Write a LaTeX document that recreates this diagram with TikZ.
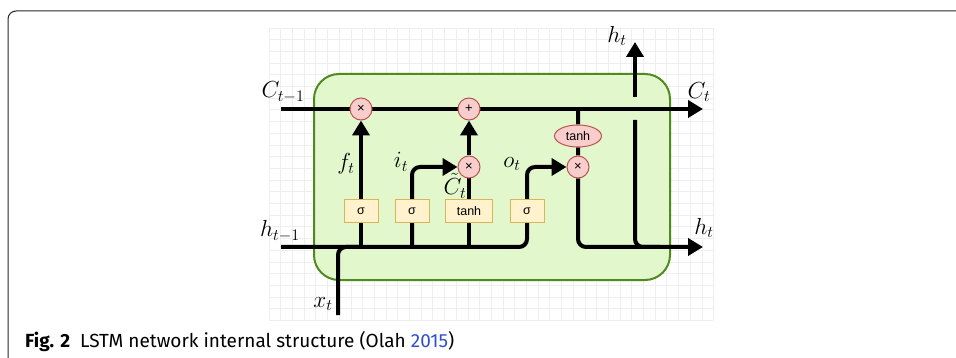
\documentclass[tikz,border=0pt]{standalone}
\usepackage{fontspec}
\setmainfont{Fira Sans}
\newfontfamily\boxfont{Liberation Sans}
\usetikzlibrary{arrows.meta,shapes.geometric}
\definecolor{gridc}{HTML}{EEEEEE}
\definecolor{cellfill}{HTML}{E3F7CC}
\definecolor{celldraw}{HTML}{4E8A1E}
\definecolor{opfill}{HTML}{F8CECC}
\definecolor{opdraw}{HTML}{B85450}
\definecolor{gatefill}{HTML}{FFF2CC}
\definecolor{gatedraw}{HTML}{D6B656}
\definecolor{citeblue}{HTML}{2F4FD0}
\pgfdeclarelayer{bg}
\pgfdeclarelayer{lines}
\pgfsetlayers{bg,lines,main}
\tikzset{
  opnode/.style={circle, draw=opdraw, fill=opfill, line width=1pt, minimum size=22pt, inner sep=0pt, font=\boxfont\fontsize{13}{14}\selectfont},
  tanhnode/.style={ellipse, draw=opdraw, fill=opfill, line width=1pt, minimum width=47pt, minimum height=22pt, inner sep=0pt, font=\boxfont\fontsize{12.5}{13}\selectfont},
  gatebox/.style={rectangle, draw=gatedraw, fill=gatefill, line width=1pt, minimum width=34pt, minimum height=23pt, inner sep=0pt, font=\boxfont\fontsize{12.5}{13}\selectfont},
  wire/.style={line width=4pt, black, rounded corners=8pt},
  wirearrow/.style={wire, -{Triangle[length=15pt,width=17pt]}},
  mathlabel/.style={inner sep=0pt, scale=1.12, font=\fontsize{20.74}{22}\selectfont},
}
\begin{document}
\begin{tikzpicture}[x=1pt,y=-1pt]
\useasboundingbox (0,0) rectangle (956,358);
% outer frame
\draw[line width=1pt, black!85, rounded corners=8pt] (8,358) -- (8,11) -- (956,11);
% grid and cell
\begin{pgfonlayer}{bg}
\foreach \i in {0,...,38} \draw[gridc, line width=0.8pt] (269+\i*11.7,28) -- (269+\i*11.7,320);
\foreach \j in {0,...,25} \draw[gridc, line width=0.8pt] (269,28+\j*11.7) -- (713,28+\j*11.7);
\draw[draw=celldraw, fill=cellfill, line width=2pt, rounded corners=25pt] (314,74) rectangle (670,280);
\end{pgfonlayer}
% coordinates
\coordinate (Cin) at (281,109);
\coordinate (Cout) at (703,109);
\coordinate (hin) at (281,247);
\coordinate (hout) at (703,247);
\coordinate (xin) at (338,315);
\coordinate (htop) at (635,42);
\coordinate (hgapbot) at (635,120);
\coordinate (hgaptop) at (635,97);
% nodes
\node[opnode] (fx) at (361,109) {×};
\node[opnode] (plus) at (469,109) {+};
\node[opnode] (ix) at (469,167) {×};
\node[opnode] (ox) at (578,167) {×};
\node[tanhnode] (tc) at (578,136) {tanh};
\node[gatebox] (s1) at (361,211) {σ};
\node[gatebox] (s2) at (412,211) {σ};
\node[gatebox, minimum width=47pt] (tb) at (469,211) {tanh};
\node[gatebox] (s3) at (527,211) {σ};
% labels
\node[mathlabel] (lC1) at (283,92) {$C_{t-1}$};
\node[mathlabel] (lC) at (699,92) {$C_t$};
\node[mathlabel] (lh1) at (280,231) {$h_{t-1}$};
\node[mathlabel] (lh) at (704,228) {$h_t$};
\node[mathlabel] (lhtop) at (617,36) {$h_t$};
\node[mathlabel] (lx) at (323,304) {$x_t$};
\node[mathlabel] (lf) at (346,164) {$f_t$};
\node[mathlabel] (li) at (401,162) {$i_t$};
\node[mathlabel, scale=1.0] (lct) at (455,186) {$\tilde{C}_t$};
\node[mathlabel] (lo) at (512,164) {$o_t$};
% wires
\begin{pgfonlayer}{lines}
\draw[wirearrow] (Cin) -- (Cout);
\draw[wirearrow] (hin) -- (s3 |- hin) -- (s3 |- ox) -- (ox.west);
\draw[wire] (xin) -- (xin |- hin) -- (s1 |- hin);
\draw[wirearrow] (s1 |- hin) -- (fx.south);
\draw[wirearrow] (s2 |- hin) -- (s2 |- ix) -- (ix.west);
\draw[wire] (tb |- hin) -- (ix.south);
\draw[wirearrow] (ix.north) -- (plus.south);
\draw[wirearrow] (tc |- Cin) -- (tc) -- (ox) -- (ox |- hout) -- (hout);
\draw[wire] (hgapbot) -- (hgapbot |- hout) -- ([xshift=25pt]hgapbot |- hout);
\draw[wirearrow] (hgaptop) -- (htop);
\end{pgfonlayer}
% caption
\node[anchor=base west, inner sep=0pt, font=\fontsize{19}{21}\selectfont] (cap) at (25,347) {\textbf{Fig. 2}\hspace{10pt}LSTM network internal structure (Olah \textcolor{citeblue}{2015})};
\end{tikzpicture}
\end{document}
